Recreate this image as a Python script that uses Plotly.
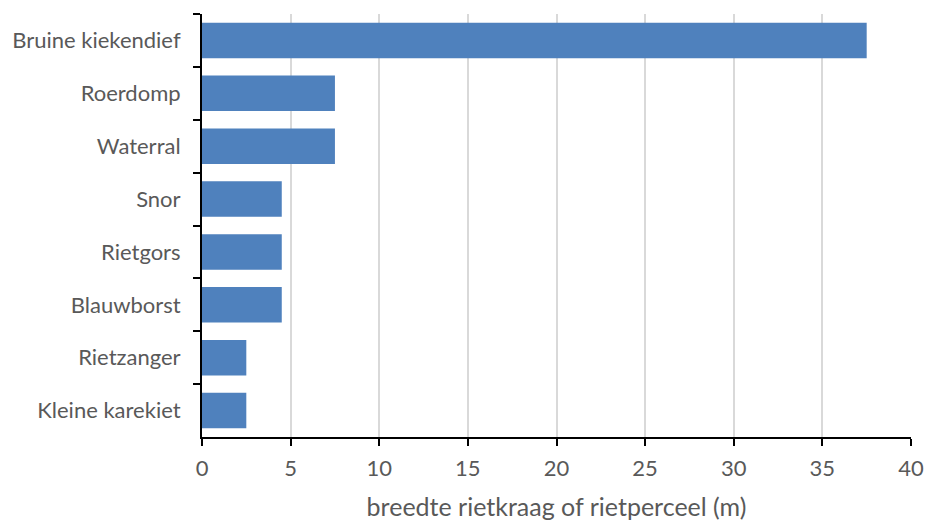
import plotly.graph_objects as go

# Bird species (top to bottom) and minimum reed-belt width in metres
species = ["Bruine kiekendief", "Roerdomp", "Waterral", "Snor",
           "Rietgors", "Blauwborst", "Rietzanger", "Kleine karekiet"]
width_m = [37.5, 7.5, 7.5, 4.5, 4.5, 4.5, 2.5, 2.5]
x_ticks = [0, 5, 10, 15, 20, 25, 30, 35, 40]

font_family = "Lato, Carlito, 'Open Sans', sans-serif"
text_grey = "#595959"

fig = go.Figure(
    go.Bar(
        x=width_m,
        y=species,
        orientation="h",
        marker=dict(color="#4F81BD", line=dict(width=0)),
        hoverinfo="x+y",
    )
)

fig.update_layout(
    width=925,
    height=521,
    margin=dict(l=202, r=14, t=14, b=84),
    plot_bgcolor="white",
    paper_bgcolor="white",
    bargap=0.33,
    showlegend=False,
    font=dict(family=font_family, color=text_grey, size=22),
)

fig.update_xaxes(
    range=[0, 40],
    tickvals=x_ticks,
    ticktext=[str(v) for v in x_ticks],
    automargin=False,
    showgrid=True,
    gridcolor="#D9D9D9",
    gridwidth=2,
    zeroline=False,
    showline=True,
    linecolor="black",
    linewidth=2,
    ticks="outside",
    ticklen=7,
    tickwidth=2,
    tickcolor="black",
    ticklabelstandoff=4,
    tickfont=dict(size=22, color=text_grey),
    title=dict(text="breedte rietkraag of rietperceel (m)",
               font=dict(size=25, color=text_grey), standoff=22),
)

fig.update_yaxes(
    autorange="reversed",
    automargin=False,
    showgrid=False,
    showline=True,
    linecolor="black",
    linewidth=2,
    ticks="outside",
    tickson="boundaries",
    ticklen=7,
    tickwidth=2,
    tickcolor="black",
    tickfont=dict(size=22, color=text_grey),
    ticklabelstandoff=15,
)

fig.write_html("out.html")
